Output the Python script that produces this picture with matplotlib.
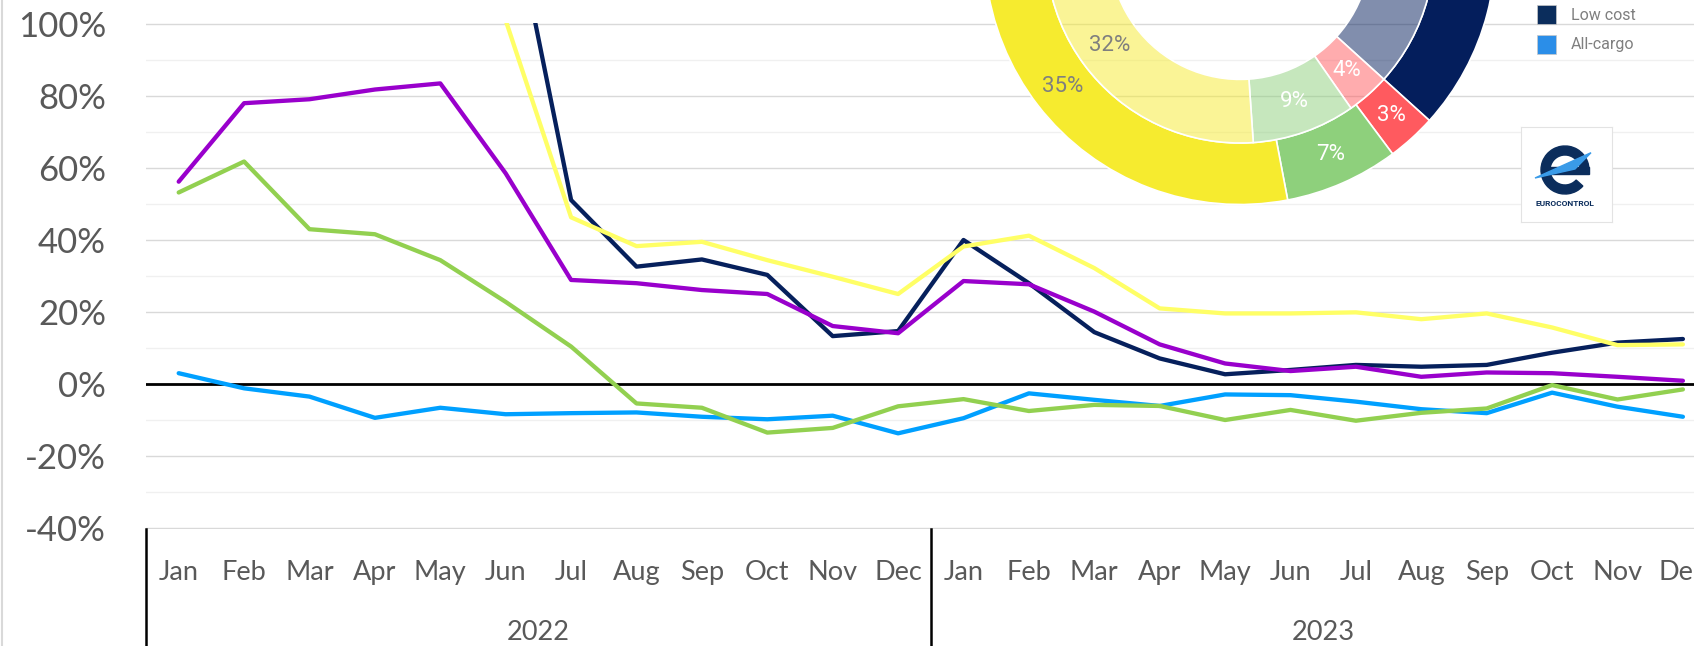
import numpy as np
import matplotlib
matplotlib.use('Agg')
import matplotlib.pyplot as plt
import matplotlib.transforms as mtransforms
from matplotlib.colors import to_rgba
from matplotlib.patches import Rectangle, Wedge, Polygon

plt.rcParams['font.family'] = ['Lato', 'DejaVu Sans']

# categories
months = ['Jan', 'Feb', 'Mar', 'Apr', 'May', 'Jun', 'Jul', 'Aug', 'Sep', 'Oct', 'Nov', 'Dec'] * 2
years = ['2022', '2023']
y_ticks = [-40, -20, 0, 20, 40, 60, 80, 100]

# monthly change (%), Jan 2022 .. Dec 2023
# (first months of the yellow and navy series are above the 100% cut, estimated)
seg_yellow = [230, 210, 190, 170, 140, 101, 46.3, 38.3, 39.5, 34.4, 29.8, 25.0,
              38.2, 41.2, 32.2, 21.0, 19.6, 19.6, 19.9, 18.0, 19.6, 15.7, 10.8, 11.0]
low_cost = [260, 240, 220, 200, 170, 141, 51.1, 32.6, 34.6, 30.3, 13.3, 14.7,
            40.0, 28.0, 14.4, 7.1, 2.7, 3.9, 5.3, 4.8, 5.3, 8.7, 11.5, 12.5]
seg_purple = [56.2, 78.0, 79.1, 81.8, 83.5, 58.5, 28.9, 28.0, 26.1, 25.0, 16.1, 14.1,
              28.6, 27.7, 20.1, 11.0, 5.7, 3.6, 4.8, 2.0, 3.2, 3.0, 2.0, 0.9]
seg_green = [53.2, 61.8, 43.0, 41.6, 34.4, 22.8, 10.4, -5.4, -6.6, -13.5, -12.2, -6.2,
             -4.2, -7.5, -5.8, -6.1, -10.0, -7.2, -10.2, -8.0, -6.8, -0.3, -4.3, -1.5]
all_cargo = [3.0, -1.2, -3.5, -9.4, -6.6, -8.4, -8.1, -7.9, -9.1, -9.8, -8.8, -13.7,
             -9.5, -2.6, -4.4, -6.1, -2.9, -3.1, -4.9, -7.0, -8.1, -2.4, -6.3, -9.1]

# donut shares (%), clockwise from the top; first and last slices are off the picture
outer_share = [30.6, 3.1, 7.2, 35.0, 24.1]
outer_labels = ['', '3%', '7%', '35%', '']
inner_share = [30.6, 3.6, 8.6, 32.0, 25.2]
inner_labels = ['', '4%', '9%', '32%', '']
donut_colors = ['#041E5C', '#FF5A5F', '#8ED07C', '#F6EB2F', '#B0B0B0']

legend_names = ['Low cost', 'All-cargo']
legend_colors = ['#0B2D5C', '#2B8EE8']

W, H = 1694, 646
fig = plt.figure(figsize=(W / 100, H / 100), dpi=100)

# main line chart
px_per_pct = 3.6
y_lo, y_hi = -40.3, 100.3
ax_h = (y_hi - y_lo) * px_per_pct
ax_bottom = 528 + 0.3 * px_per_pct
ax = fig.add_axes([146 / W, (H - ax_bottom) / H, (W - 146) / W, ax_h / H])
ax.set_xlim(-0.5, -0.5 + (W - 146) / 65.4)
ax.set_ylim(y_lo, y_hi)

ax.set_yticks(y_ticks)
ax.set_yticklabels([f'{v}%' for v in y_ticks], fontsize=25, color='#595959')
ax.set_yticks(np.arange(-30, 100, 20), minor=True)
ax.grid(axis='y', which='major', color='#D9D9D9', lw=1.0)
ax.grid(axis='y', which='minor', color='#F0F0F0', lw=1.0)
ax.set_axisbelow(True)
ax.tick_params(axis='y', which='both', length=0, pad=28.8)

x = np.arange(len(months))
ax.set_xticks(x)
ax.set_xticklabels(months, fontsize=19.5, color='#595959')
for lab in ax.get_xticklabels():
    lab.set_va('baseline')
ax.tick_params(axis='x', length=0, pad=36.6)
for s in ax.spines.values():
    s.set_visible(False)

ax.axhline(0, color='black', lw=2.0, zorder=1.8)

series = [(all_cargo, '#00A0FF'), (low_cost, '#06205C'), (seg_purple, '#9900CC'),
          (seg_green, '#92D050'), (seg_yellow, '#FFFF66')]
for i, (vals, col) in enumerate(series):
    ax.plot(x, vals, color=col, lw=3.1, solid_capstyle='round',
            solid_joinstyle='round', zorder=3 + i)

trans = mtransforms.blended_transform_factory(ax.transData, ax.transAxes)
for xs in [-0.5, 11.5, 23.5]:
    ax.plot([xs, xs], [0, -0.3], transform=trans, color='black', lw=1.8, clip_on=False)
year_base = (ax_bottom - 640) / ax_h
for k, yr in enumerate(years):
    ax.text(5.5 + 12 * k, year_base, yr, transform=trans, ha='center', va='baseline',
            fontsize=19.5, color='#595959')

# donut inset (centre above the top edge)
cx, cy, R = 1240, H + 51, 255.5
dax = fig.add_axes([(cx - R) / W, (cy - R) / H, 2 * R / W, 2 * R / H])
wedges_out, _ = dax.pie(outer_share, radius=1.0, startangle=68, counterclock=False,
                        colors=donut_colors,
                        wedgeprops=dict(width=61.5 / R, edgecolor='white', linewidth=1.2))
wedges_in, _ = dax.pie(inner_share, radius=194 / R, startangle=68, counterclock=False,
                       colors=[to_rgba(c, 0.5) for c in donut_colors],
                       wedgeprops=dict(width=63.6 / R, edgecolor='white', linewidth=1.2))
dax.set_xlim(-1, 1)
dax.set_ylim(-1, 1)
dax.axis('off')
for wedges, labels in [(wedges_out, outer_labels), (wedges_in, inner_labels)]:
    for w, lab in zip(wedges, labels):
        if not lab:
            continue
        ang = np.deg2rad((w.theta1 + w.theta2) / 2)
        r = w.r - w.width / 2
        col = '#7F7F7F' if lab in ('35%', '32%') else 'white'
        dax.text(r * np.cos(ang), r * np.sin(ang), lab, ha='center', va='center',
                 fontsize=16, color=col, family='Roboto')

# overlay in pixel coordinates: legend and chart border
ov = fig.add_axes([0, 0, 1, 1])
ov.set_xlim(0, W)
ov.set_ylim(H, 0)
ov.axis('off')
ov.plot([1.5, 1.5], [0, H], color='#D9D9D9', lw=1.5)
for k, (name, col) in enumerate(zip(legend_names, legend_colors)):
    y0 = 5 + 30 * k
    ov.add_patch(Rectangle((1536.7, y0), 19.3, 19, facecolor=col, edgecolor='#C8C8C8', lw=0.5))
    ov.text(1571, y0 + 10, name, ha='left', va='center', fontsize=11.5,
            color='#7F7F7F', family='Roboto')

# logo box
lax = fig.add_axes([1521 / W, (H - 222) / H, 91 / W, 95 / H])
lax.set_xlim(0, 91)
lax.set_ylim(0, 95)
lax.set_xticks([])
lax.set_yticks([])
lax.set_facecolor('white')
for s in lax.spines.values():
    s.set_color('#E3E3E3')
    s.set_linewidth(0.8)
lax.add_patch(Wedge((44, 52), 24, 0, 318, width=9, color='#0B2D5C'))
lax.add_patch(Rectangle((28, 48), 40, 7, color='#0B2D5C'))
lax.add_patch(Polygon([(14, 44), (70, 69.3), (54, 53)], closed=True, color='#3A9BE8'))
lax.text(44, 18.7, 'EUROCONTROL', ha='center', va='center', fontsize=6,
         fontweight='bold', color='#0B2D5C', family='Roboto')

fig.savefig('out.png', dpi=100)
